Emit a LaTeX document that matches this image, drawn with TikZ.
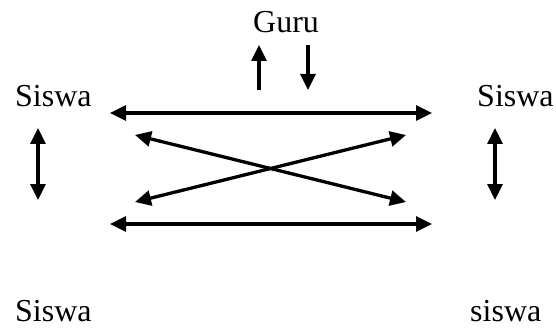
\documentclass[tikz,border=0pt]{standalone}
\usepackage{fontspec}
\setmainfont{Liberation Serif}
\usetikzlibrary{arrows.meta}
\tikzset{
  lbl/.style={inner sep=0pt, anchor=base west, font=\fontsize{32}{36}\selectfont},
  dbl/.style={line width=3.3pt, {Triangle[length=16pt,width=15pt]}-{Triangle[length=16pt,width=15pt]}},
  sgl/.style={line width=3.3pt, -{Triangle[length=16pt,width=15pt]}}
}
\begin{document}
\begin{tikzpicture}[x=1pt,y=-1pt]
  \useasboundingbox (0,0) rectangle (556,331);
  % labels
  \node[lbl] (guru) at (253,33) {Guru};
  \node[lbl] (stl) at (15,107) {Siswa};
  \node[lbl] (str) at (477,107) {Siswa};
  \node[lbl] (sbl) at (15,321) {Siswa};
  \node[lbl] (sbr) at (470,321) {siswa};
  % arrow end points
  \coordinate (gu0) at (259,90);  \coordinate (gu1) at (259,45);
  \coordinate (gd0) at (308,45);  \coordinate (gd1) at (308,90);
  \coordinate (lv0) at (38,128);  \coordinate (lv1) at (38,200);
  \coordinate (rv0) at (495,128); \coordinate (rv1) at (495,200);
  \coordinate (ht0) at (110,113); \coordinate (ht1) at (432,113);
  \coordinate (hb0) at (110,224); \coordinate (hb1) at (432,224);
  \coordinate (xa0) at (135,135); \coordinate (xa1) at (406,202);
  \coordinate (xb0) at (135,202); \coordinate (xb1) at (406,135);
  % arrows
  \draw[sgl] (gu0) -- (gu1);
  \draw[sgl] (gd0) -- (gd1);
  \draw[dbl] (lv0) -- (lv1);
  \draw[dbl] (rv0) -- (rv1);
  \draw[dbl] (ht0) -- (ht1);
  \draw[dbl] (hb0) -- (hb1);
  \draw[dbl] (xa0) -- (xa1);
  \draw[dbl] (xb0) -- (xb1);
\end{tikzpicture}
\end{document}
